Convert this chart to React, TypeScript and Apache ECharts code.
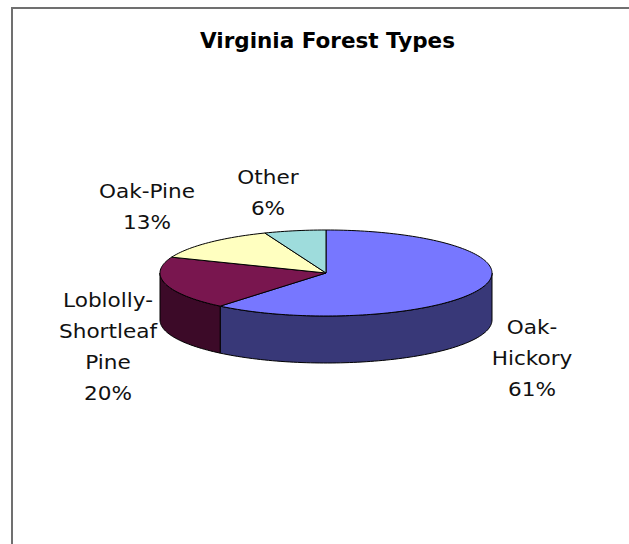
import React, { useEffect, useRef } from 'react';
import * as echarts from 'echarts';

const TITLE = 'Virginia Forest Types';
const CATEGORIES = ['Oak-Hickory', 'Loblolly-Shortleaf Pine', 'Oak-Pine', 'Other'];
const LABEL_LINES = [['Oak-', 'Hickory'], ['Loblolly-', 'Shortleaf', 'Pine'], ['Oak-Pine'], ['Other']];
const VALUES = [61, 20, 13, 6];

const TOP_COLORS = ['#7777ff', '#79164f', '#ffffc0', '#9edcdc'];
const SIDE_COLORS = ['#383878', '#3c0a28', '#80805f', '#4f6e6e'];

// 3D pie geometry (style / layout)
const CX = 326;
const CY = 273;
const RX = 166;
const RY = 43;
const DEPTH = 47;
const LABEL_CENTERS = [[532, 358], [108, 347], [147, 207], [268, 193]];
const LABEL_LINE_HEIGHT = 31;

const TOTAL = VALUES.reduce((a, b) => a + b, 0);
const STARTS: number[] = [];
{
  let acc = 0;
  for (const v of VALUES) {
    STARTS.push((acc / TOTAL) * 360);
    acc += v;
  }
}

function pt(deg: number, dy: number): number[] {
  const r = (deg * Math.PI) / 180;
  return [CX + RX * Math.sin(r), CY - RY * Math.cos(r) + dy];
}

function arc(a0: number, a1: number, dy: number): number[][] {
  const steps = Math.max(2, Math.ceil(Math.abs(a1 - a0) / 1.5));
  const out: number[][] = [];
  for (let k = 0; k <= steps; k++) {
    out.push(pt(a0 + ((a1 - a0) * k) / steps, dy));
  }
  return out;
}

export default function App() {
  const ref = useRef<HTMLDivElement>(null);
  useEffect(() => {
    if (!ref.current) return;
    const chart = echarts.init(ref.current, undefined, { renderer: 'svg' });
    const data = VALUES.map((v, i) => ({ value: v, name: CATEGORIES[i] }));

    const sideRender = (params: any, api: any) => {
      const i = params.dataIndex;
      const v = api.value(0);
      const a0 = STARTS[i];
      const a1 = a0 + (v / TOTAL) * 360;
      const s = Math.max(a0, 90);
      const e = Math.min(a1, 270);
      if (e <= s) return { type: 'group', children: [] };
      const pts = arc(s, e, 0).concat(arc(e, s, DEPTH));
      return {
        type: 'polygon',
        shape: { points: pts },
        style: { fill: SIDE_COLORS[i], stroke: '#000', lineWidth: 1 },
        silent: true,
      };
    };

    const topRender = (params: any, api: any) => {
      const i = params.dataIndex;
      const v = api.value(0);
      const a0 = STARTS[i];
      const a1 = a0 + (v / TOTAL) * 360;
      const pts = [[CX, CY]].concat(arc(a0, a1, 0));
      const pct = Math.round((v / TOTAL) * 100) + '%';
      const text = LABEL_LINES[i].concat([pct]).join('\n');
      return {
        type: 'group',
        children: [
          {
            type: 'polygon',
            shape: { points: pts },
            style: { fill: TOP_COLORS[i], stroke: '#000', lineWidth: 1 },
            silent: true,
          },
          {
            type: 'text',
            x: LABEL_CENTERS[i][0],
            y: LABEL_CENTERS[i][1],
            scaleX: 1.08,
            silent: true,
            style: {
              text,
              x: 0,
              y: 0,
              fill: '#111',
              fontFamily: 'DejaVu Sans',
              fontSize: 20,
              lineHeight: LABEL_LINE_HEIGHT,
              align: 'center',
              verticalAlign: 'middle',
            },
          },
        ],
      };
    };

    chart.setOption({
      animation: false,
      backgroundColor: '#ffffff',
      title: {
        text: TITLE,
        left: 327.5,
        top: 28.5,
        padding: 0,
        textAlign: 'center',
        textStyle: {
          fontFamily: 'DejaVu Sans',
          fontWeight: 'bold',
          fontSize: 21.5,
          lineHeight: 24,
          color: '#000',
        },
      },
      graphic: [
        {
          type: 'rect',
          shape: { x: 12, y: 8, width: 700, height: 700 },
          style: { fill: 'none', stroke: '#707070', lineWidth: 2 },
          silent: true,
          z: -1,
        },
      ],
      series: [
        {
          type: 'custom',
          name: 'sides',
          coordinateSystem: 'none',
          renderItem: sideRender,
          data,
          z: 2,
          silent: true,
        },
        {
          type: 'custom',
          name: 'tops',
          coordinateSystem: 'none',
          renderItem: topRender,
          data,
          z: 3,
          silent: true,
        },
      ],
    });
    return () => chart.dispose();
  }, []);
  return (
    <div
      ref={ref}
      style={{ position: 'fixed', left: 0, top: 0, width: 629, height: 544 }}
    />
  );
}
